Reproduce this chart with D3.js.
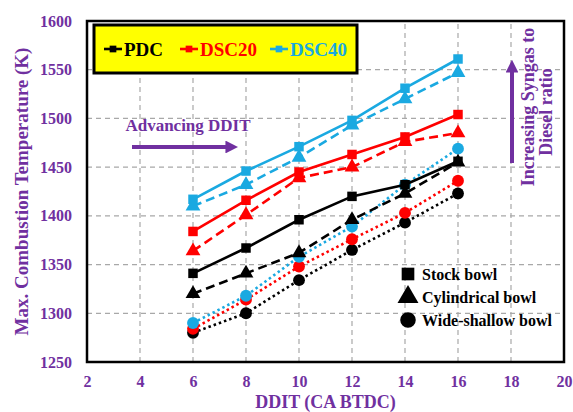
<!DOCTYPE html>
<html>
<head>
<meta charset="utf-8">
<script src="https://cdn.jsdelivr.net/npm/d3@7/dist/d3.min.js"></script>
<style>
  html, body { margin: 0; padding: 0; background: #fff; }
  svg text { font-family: "Liberation Serif", "Times New Roman", serif; font-weight: bold; }
</style>
</head>
<body>
<svg id="chart" width="573" height="412"></svg>
<script>
// Injection timing (CA BTDC)
const ddit = [6, 8, 10, 12, 14, 16];

// Peak combustion temperature (K) per fuel mode and bowl geometry
const pdcStock      = [1341, 1367, 1396, 1420, 1432, 1456];
const pdcCylinder   = [1320, 1341, 1362, 1396, 1423, 1455];
const pdcWide       = [1280, 1300, 1334, 1365, 1393, 1423];
const dsc20Stock    = [1384, 1416, 1445, 1463, 1481, 1504];
const dsc20Cylinder = [1364, 1401, 1439, 1450, 1476, 1485];
const dsc20Wide     = [1284, 1314, 1348, 1376, 1403, 1436];
const dsc40Stock    = [1417, 1446, 1471, 1498, 1531, 1561];
const dsc40Cylinder = [1410, 1432, 1460, 1493, 1520, 1547];
const dsc40Wide     = [1290, 1318, 1358, 1389, 1432, 1469];

const fuelModes = ["PDC", "DSC20", "DSC40"];
const bowlTypes = ["Stock bowl", "Cylindrical bowl", "Wide-shallow bowl"];
const xTicks = [2, 4, 6, 8, 10, 12, 14, 16, 18, 20];
const yTicks = [1250, 1300, 1350, 1400, 1450, 1500, 1550, 1600];

const modeColor = { "PDC": "#000000", "DSC20": "#ff0000", "DSC40": "#1aa9e1" };
const bowlShape = { "Stock bowl": d3.symbolSquare, "Cylindrical bowl": d3.symbolTriangle, "Wide-shallow bowl": d3.symbolCircle };
const bowlDash  = { "Stock bowl": null, "Cylindrical bowl": "9,5", "Wide-shallow bowl": "2.5,3" };
const bowlSize  = { "Stock bowl": 90, "Cylindrical bowl": 95, "Wide-shallow bowl": 110 };

const series = [
  { mode: "PDC",   bowl: "Wide-shallow bowl", values: pdcWide },
  { mode: "DSC20", bowl: "Wide-shallow bowl", values: dsc20Wide },
  { mode: "DSC40", bowl: "Wide-shallow bowl", values: dsc40Wide },
  { mode: "PDC",   bowl: "Cylindrical bowl",  values: pdcCylinder },
  { mode: "DSC20", bowl: "Cylindrical bowl",  values: dsc20Cylinder },
  { mode: "DSC40", bowl: "Cylindrical bowl",  values: dsc40Cylinder },
  { mode: "PDC",   bowl: "Stock bowl",        values: pdcStock },
  { mode: "DSC20", bowl: "Stock bowl",        values: dsc20Stock },
  { mode: "DSC40", bowl: "Stock bowl",        values: dsc40Stock }
];

const purple = "#7030a0";
const svg = d3.select("#chart");
const margin = { left: 87, right: 9, top: 21, bottom: 50 };
const W = 573, H = 412;

const x = d3.scaleLinear().domain([2, 20]).range([margin.left, W - margin.right]);
const y = d3.scaleLinear().domain([1250, 1600]).range([H - margin.bottom, margin.top]);

// Dashed grid
const grid = svg.append("g").attr("stroke", "#a8a8a8").attr("stroke-width", 1.2).attr("stroke-dasharray", "5,4");
grid.selectAll("line.v").data(xTicks.slice(1, -1)).join("line")
  .attr("x1", d => x(d)).attr("x2", d => x(d)).attr("y1", y(1250)).attr("y2", y(1600));
grid.selectAll("line.h").data(yTicks.slice(1, -1)).join("line")
  .attr("x1", x(2)).attr("x2", x(20)).attr("y1", d => y(d)).attr("y2", d => y(d));

// Axes (labels only; the frame is drawn separately)
const xAxis = svg.append("g").attr("transform", `translate(0,${y(1250)})`)
  .call(d3.axisBottom(x).tickValues(xTicks).tickFormat(d3.format("d")).tickSize(0).tickPadding(14));
const yAxis = svg.append("g").attr("transform", `translate(${x(2)},0)`)
  .call(d3.axisLeft(y).tickValues(yTicks).tickFormat(d3.format("d")).tickSize(0).tickPadding(15));
[xAxis, yAxis].forEach(a => {
  a.select(".domain").remove();
  a.selectAll("text").attr("fill", purple).style("font-size", "16px")
    .style("font-family", "'Liberation Serif', serif").style("font-weight", "bold");
});

// Annotations
const defs = svg.append("defs");
defs.append("marker").attr("id", "head").attr("viewBox", "0 0 10 10")
  .attr("refX", 2).attr("refY", 5).attr("markerWidth", 3.2).attr("markerHeight", 3.2)
  .attr("orient", "auto")
  .append("path").attr("d", "M0,0 L10,5 L0,10 Z").attr("fill", purple);

svg.append("text").attr("x", 188).attr("y", 131).attr("text-anchor", "middle")
  .attr("fill", purple).style("font-size", "17px").text("Advancing DDIT");
svg.append("line").attr("x1", 132).attr("x2", 228).attr("y1", 147).attr("y2", 147)
  .attr("stroke", purple).attr("stroke-width", 4).attr("marker-end", "url(#head)");

svg.append("line").attr("x1", 512).attr("x2", 512).attr("y1", 163).attr("y2", 70)
  .attr("stroke", purple).attr("stroke-width", 4).attr("marker-end", "url(#head)");
svg.append("text").attr("transform", "translate(534,107) rotate(-90)").attr("text-anchor", "middle")
  .attr("fill", purple).style("font-size", "18px").text("Increasing Syngas to");
svg.append("text").attr("transform", "translate(552,112) rotate(-90)").attr("text-anchor", "middle")
  .attr("fill", purple).style("font-size", "18px").text("Diesel ratio");

// Series lines and markers
const line = d3.line().x((d, i) => x(ddit[i])).y(d => y(d));
const plot = svg.append("g");
series.forEach(s => {
  const c = modeColor[s.mode];
  plot.append("path").datum(s.values).attr("d", line)
    .attr("fill", "none").attr("stroke", c).attr("stroke-width", 2.6)
    .attr("stroke-dasharray", bowlDash[s.bowl]);
  plot.selectAll(null).data(s.values).join("path")
    .attr("transform", (d, i) => `translate(${x(ddit[i])},${y(d)})`)
    .attr("d", d3.symbol().type(bowlShape[s.bowl]).size(bowlSize[s.bowl]))
    .attr("fill", c);
});

// Frame
svg.append("rect").attr("x", x(2)).attr("y", y(1600))
  .attr("width", x(20) - x(2)).attr("height", y(1250) - y(1600))
  .attr("fill", "none").attr("stroke", "#000").attr("stroke-width", 2.5);

// Fuel-mode legend
const lg = svg.append("g");
lg.append("rect").attr("x", 94).attr("y", 25).attr("width", 263).attr("height", 48)
  .attr("fill", "#ffff00").attr("stroke", "#000").attr("stroke-width", 3);
const legendX = [104, 180, 270];
fuelModes.forEach((m, i) => {
  const g = lg.append("g").attr("transform", `translate(${legendX[i]},49)`);
  g.append("line").attr("x1", 0).attr("x2", 18).attr("stroke", modeColor[m]).attr("stroke-width", 2.6);
  g.append("path").attr("transform", "translate(9,0)")
    .attr("d", d3.symbol().type(d3.symbolSquare).size(45)).attr("fill", modeColor[m]);
  g.append("text").attr("x", 20).attr("y", 7).attr("fill", modeColor[m] === "#000000" ? "#000" : modeColor[m])
    .style("font-size", "19px").text(m);
});

// Bowl-geometry legend
const bowlY = [274, 297, 320];
bowlTypes.forEach((b, i) => {
  const g = svg.append("g").attr("transform", `translate(408,${bowlY[i]})`);
  g.append("path").attr("d", d3.symbol().type(bowlShape[b]).size(b === "Stock bowl" ? 160 : 190)).attr("fill", "#000");
  g.append("text").attr("x", 14).attr("y", 5.5).attr("fill", "#000").style("font-size", "16px").text(b);
});

// Axis titles
svg.append("text").attr("x", (x(2) + x(20)) / 2).attr("y", 408).attr("text-anchor", "middle")
  .attr("fill", purple).style("font-size", "18px").text("DDIT (CA BTDC)");
svg.append("text").attr("transform", `translate(28,${(y(1250) + y(1600)) / 2}) rotate(-90)`)
  .attr("text-anchor", "middle").attr("fill", purple).style("font-size", "19px")
  .text("Max. Combustion Temperature (K)");
</script>
</body>
</html>
